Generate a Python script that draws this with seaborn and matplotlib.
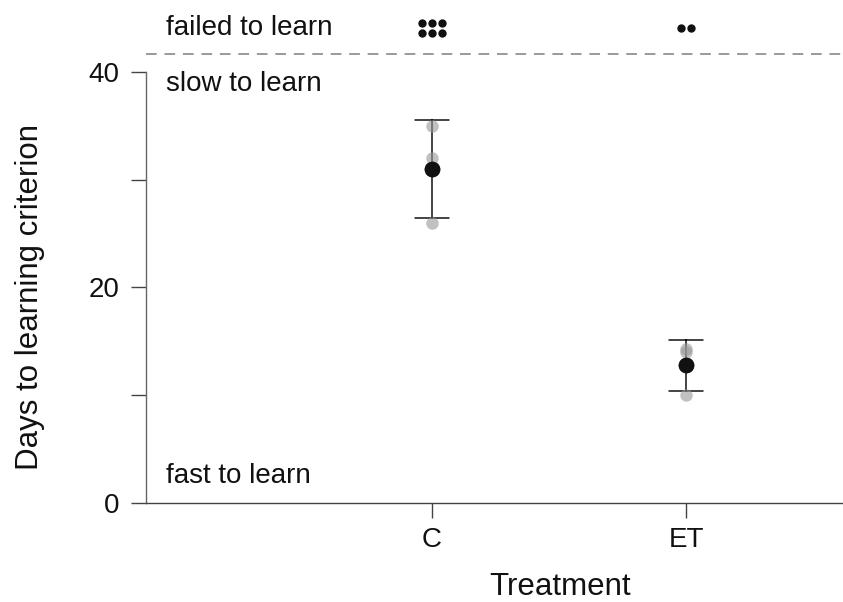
import seaborn as sns
import matplotlib.pyplot as plt
import pandas as pd

# days to criterion for the animals that did learn
treatment = ['C', 'C', 'C', 'ET', 'ET', 'ET']
days = [35.0, 32.0, 26.0, 14.3, 14.0, 10.0]

# animals that never reached the criterion
groups = ['C', 'ET']
failed = [6, 2]

y_ticks = [0, 10, 20, 30, 40]
y_labels = ['0', '', '20', '', '40']

datos = pd.DataFrame({'Treatment': treatment, 'Days': days})

sns.set_style('ticks')
plt.rcParams['font.family'] = ['Liberation Sans', 'DejaVu Sans']

fig = plt.figure(figsize=(8.43, 6.02), dpi=100)
ax = fig.add_axes([146 / 843, 99 / 602, 697 / 843, 503 / 602])

# media +- sd
sns.pointplot(data=datos, x='Treatment', y='Days', order=groups,
              errorbar='sd', capsize=0.134, linestyle='none',
              color='#111111', markersize=9.2, err_kws={'linewidth': 1.1},
              ax=ax)
for ln in ax.lines:
    ln.set_zorder(2)

# puntos individuales, encima de las barras de error
sns.stripplot(data=datos, x='Treatment', y='Days', order=groups,
              jitter=False, color='#999999', alpha=0.6, size=9,
              linewidth=0, ax=ax, zorder=3)

# punto de la media otra vez encima de todo
sns.pointplot(data=datos, x='Treatment', y='Days', order=groups,
              errorbar=None, linestyle='none', color='#111111',
              markersize=9.2, ax=ax)
ax.lines[-1].set_zorder(4)

# los que no aprendieron, como una cuadricula de puntos
for i, (g, n) in enumerate(zip(groups, failed)):
    ncol = min(n, 3)
    nrow = (n + ncol - 1) // ncol
    xs, ys = [], []
    for k in range(n):
        r, c = divmod(k, ncol)
        xs.append(i + (c - (ncol - 1) / 2) * 0.038)
        ys.append(44.1 + ((nrow - 1) / 2 - r) * 0.95)
    ax.scatter(xs, ys, s=36, color='#111111', linewidths=0,
               clip_on=False, zorder=3)

ax.axhline(41.7, color='#9a9a9a', linestyle=(0, (5.5, 4)), linewidth=1.4)

ax.text(0.0287, 44.1, 'failed to learn', transform=ax.get_yaxis_transform(),
        fontsize=20, va='center', ha='left', color='#111111')
ax.text(0.0287, 38.9, 'slow to learn', transform=ax.get_yaxis_transform(),
        fontsize=20, va='center', ha='left', color='#111111')
ax.text(0.0287, 2.5, 'fast to learn', transform=ax.get_yaxis_transform(),
        fontsize=20, va='center', ha='left', color='#111111')

ax.set_xlim(-1.126, 1.618)
ax.set_ylim(0, 46.68)
ax.set_yticks(y_ticks)
ax.set_yticklabels(y_labels)

sns.despine(ax=ax)
ax.spines['left'].set_bounds(0, 40)
ax.spines['left'].set_color('#666666')
ax.spines['bottom'].set_color('#444444')
ax.spines['left'].set_linewidth(1.0)
ax.spines['bottom'].set_linewidth(1.0)
ax.tick_params(axis='both', length=11, width=1.0, color='#444444',
               labelsize=20, labelcolor='#111111')
ax.tick_params(axis='y', pad=8)
ax.tick_params(axis='x', pad=6)

ax.set_xlabel('Treatment', fontsize=22.5, color='#111111')
ax.set_ylabel('Days to learning criterion', fontsize=22.5, color='#111111')
ax.xaxis.set_label_coords(0.594, -0.167)
ax.yaxis.set_label_coords(-0.166, 0.41)
ax.xaxis.label.set_va('center')
ax.yaxis.label.set_va('center')

fig.savefig('out.png', dpi=100)
